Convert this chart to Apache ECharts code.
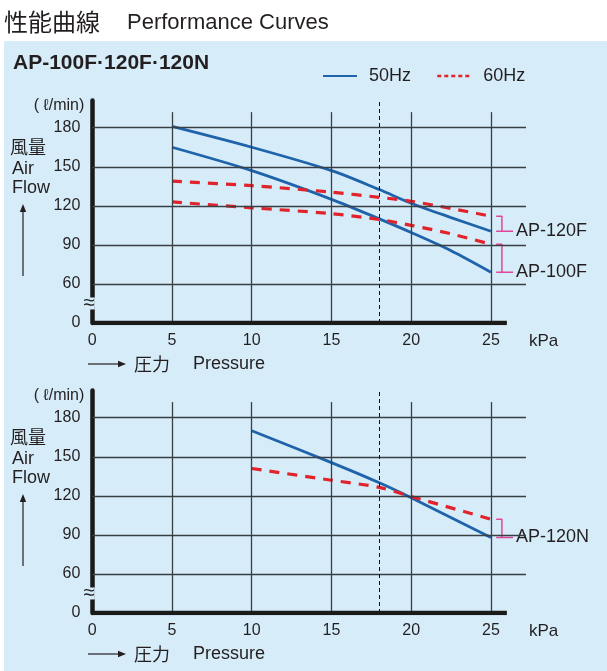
<!DOCTYPE html>
<html><head><meta charset="utf-8">
<script src="https://cdn.jsdelivr.net/npm/echarts@6/dist/echarts.min.js"></script>
<style>html,body{margin:0;padding:0;background:#fff}#c{width:607px;height:671px}</style>
</head><body><div id="c"></div>
<script>
// ---- data ----
const pressureTicks = [0, 5, 10, 15, 20, 25];
const flowTicks = [0, 60, 90, 120, 150, 180];
const markerPressure = 18;

// upper chart: AP-100F / AP-120F
const pTop = [5, 10, 15, 18, 20, 22.5, 25];
const ap120F_50 = [181, 165, 147, 132.5, 122, 111, 100.5];
const ap100F_50 = [165, 147, 125, 110, 99.5, 85.5, 69];
const ap120F_60 = [139, 135.5, 130.5, 126.5, 123.5, 118, 112];
const ap100F_60 = [123, 118.5, 114, 109.5, 105, 98.5, 90.5];

// lower chart: AP-120N
const pBot = [10, 15, 18, 20, 25];
const ap120N_50 = [170, 145.5, 130, 118.5, 88];
const ap120N_60 = [141, 132, 126.5, 119.5, 102];

// ---- styling / layout ----
const ZERO_SLOT = 30;       // axis slot where the broken axis shows "0"
const Y_MAX = 201, X_MAX = 27.2, VGRID_TOP = 192, XLINE_END = 26;
const BLUE = '#1f63ab', RED = '#e1232b', PINK = '#e0479a', INK = '#231f20', PANEL = '#d6ecf9';
const TXT = 'Liberation Sans, Arial, sans-serif';
const CJK = '"Noto Sans CJK JP", sans-serif';

const zip = (xs, ys) => xs.map((x, i) => [x, ys[i]]);
const last = a => a[a.length - 1];

function helperSeries(g) {
  const vLines = pressureTicks.filter(p => p > 0).map(p => [{coord: [p, ZERO_SLOT]}, {coord: [p, VGRID_TOP]}]);
  const hLines = flowTicks.filter(f => f > 0).map(f => ({yAxis: f}));
  const dashed = [{coord: [markerPressure, ZERO_SLOT], lineStyle: {type: [4, 3], width: 1, color: '#111'}}, {coord: [markerPressure, Y_MAX]}];
  return {
    type: 'line', xAxisIndex: g, yAxisIndex: g, silent: true, symbol: 'none', z: 5,
    data: [[0, ZERO_SLOT], [XLINE_END, ZERO_SLOT]],
    lineStyle: {color: '#1a1a1a', width: 4.5},
    markLine: {
      silent: true, symbol: 'none', label: {show: false}, animation: false,
      lineStyle: {color: '#3a3f44', width: 1.3, type: 'solid'},
      data: [...hLines, ...vLines, dashed]
    },
    markPoint: {
      silent: true, symbol: 'circle', symbolSize: 1, itemStyle: {color: 'rgba(0,0,0,0)'},
      data: [{coord: [0, 45]}],
      label: {show: true, formatter: '≈', fontSize: 20, color: '#222', position: 'inside',
              offset: [-3, 0], backgroundColor: PANEL, lineHeight: 12, padding: [0, 0]}
    }
  };
}

function curve(g, name, xs, ys, dashed) {
  return {
    type: 'line', name, xAxisIndex: g, yAxisIndex: g, symbol: 'none', smooth: 0.3, z: dashed ? 4 : 3,
    data: zip(xs, ys),
    lineStyle: dashed ? {color: RED, width: 3.2, type: [10, 8]} : {color: BLUE, width: 2.8},
    itemStyle: {color: dashed ? RED : BLUE}
  };
}

function bracket(g, label, xs, y60, y50) {
  const p = last(xs), a = last(y60), b = last(y50);
  return {
    type: 'line', name: label, xAxisIndex: g, yAxisIndex: g, symbol: 'none', silent: true, z: 4,
    data: [[p + 0.33, a], [p + 0.69, a], [p + 0.69, b], [p + 0.33, b], [p + 1.39, b]],
    lineStyle: {color: PINK, width: 1.5},
    endLabel: {show: true, formatter: label, fontSize: 18, color: INK, fontFamily: TXT, distance: 3}
  };
}

function xAxisCfg(g) {
  return {
    type: 'value', gridIndex: g, min: 0, max: X_MAX, interval: 5,
    axisLine: {show: false}, axisTick: {show: false}, splitLine: {show: false},
    axisLabel: {fontSize: 16, color: INK, fontFamily: TXT, margin: 10, showMaxLabel: false,
                formatter: v => pressureTicks.includes(v) ? String(v) : ''},
    name: 'kPa', nameLocation: 'end', nameGap: 3,
    nameTextStyle: {fontSize: 17, color: INK, fontFamily: TXT, align: 'left', verticalAlign: 'top', padding: [10, 0, 0, 0]}
  };
}
function yAxisCfg(g) {
  return {
    type: 'value', gridIndex: g, min: ZERO_SLOT, max: Y_MAX, interval: 30, offset: 2,
    axisLine: {show: true, lineStyle: {color: '#1a1a1a', width: 4.5}},
    axisTick: {show: false}, splitLine: {show: false},
    axisLabel: {fontSize: 16, color: INK, fontFamily: TXT, margin: 10, showMaxLabel: false,
                formatter: v => v === ZERO_SLOT ? '0' : (flowTicks.includes(v) ? String(v) : '')},
    name: '( ℓ/min)', nameLocation: 'end', nameGap: -5,
    nameTextStyle: {fontSize: 16, color: INK, fontFamily: TXT, align: 'right', verticalAlign: 'middle', padding: [0, 8, 0, 0]}
  };
}

function sideTexts(dy) {
  const t = (text, x, y, font) => ({type: 'text', z: 10, style: {text, x, y: y + dy, font, fill: INK,
    textAlign: 'left', align: 'left', textVerticalAlign: 'middle', verticalAlign: 'middle'}});
  return [
    t('風量', 10, 147, '18px ' + CJK),
    t('Air', 12, 169, '18px ' + TXT),
    t('Flow', 12, 188, '18px ' + TXT),
    {type: 'line', z: 10, shape: {x1: 23, y1: 276 + dy, x2: 23, y2: 210 + dy}, style: {stroke: INK, lineWidth: 1.2}},
    {type: 'polygon', z: 10, shape: {points: [[23, 204 + dy], [19.8, 212 + dy], [26.2, 212 + dy]]}, style: {fill: INK}},
    {type: 'line', z: 10, shape: {x1: 88, y1: 364 + dy, x2: 120, y2: 364 + dy}, style: {stroke: INK, lineWidth: 1.2}},
    {type: 'polygon', z: 10, shape: {points: [[126, 364 + dy], [118, 360.8 + dy], [118, 367.2 + dy]]}, style: {fill: INK}},
    t('圧力', 134, 364, '18px ' + CJK),
    t('Pressure', 193, 364, '18px ' + TXT)
  ];
}

const chart = echarts.init(document.getElementById('c'), null, {renderer: 'canvas'});
chart.setOption({
  animation: false,
  backgroundColor: '#ffffff',
  textStyle: {fontFamily: TXT},
  graphic: [
    {type: 'rect', z: -10, shape: {x: 4, y: 41, width: 603, height: 630}, style: {fill: PANEL}},
    {type: 'text', z: 10, style: {text: '性能曲線', x: 4, y: 22, font: '24px ' + CJK, fill: INK, textVerticalAlign: 'middle', verticalAlign: 'middle'}},
    {type: 'text', z: 10, style: {text: 'Performance Curves', x: 127, y: 23, font: '22px ' + TXT, fill: INK, textVerticalAlign: 'middle', verticalAlign: 'middle'}},
    {type: 'text', z: 10, style: {text: 'AP-100F·120F·120N', x: 13, y: 63, font: 'bold 21px ' + TXT, fill: INK, textVerticalAlign: 'middle', verticalAlign: 'middle'}},
    ...sideTexts(0), ...sideTexts(290)
  ],
  legend: {
    left: 317, top: 62, itemWidth: 34, itemHeight: 14, itemGap: 25,
    textStyle: {fontSize: 18, color: INK, fontFamily: TXT, padding: [0, 0, 0, 7]},
    itemStyle: {color: 'rgba(0,0,0,0)', borderWidth: 0, opacity: 0},
    data: [{name: '50Hz'}, {name: '60Hz', lineStyle: {type: [4, 3], width: 2.5}}]
  },
  grid: [
    {left: 92.3, right: 81, top: 100.4, height: 222.6, containLabel: false},
    {left: 92.3, right: 81, top: 390.4, height: 222.6, containLabel: false}
  ],
  xAxis: [xAxisCfg(0), xAxisCfg(1)],
  yAxis: [yAxisCfg(0), yAxisCfg(1)],
  series: [
    helperSeries(0),
    curve(0, '50Hz', pTop, ap120F_50, false),
    curve(0, '50Hz', pTop, ap100F_50, false),
    curve(0, '60Hz', pTop, ap120F_60, true),
    curve(0, '60Hz', pTop, ap100F_60, true),
    bracket(0, 'AP-120F', pTop, ap120F_60, ap120F_50),
    bracket(0, 'AP-100F', pTop, ap100F_60, ap100F_50),
    helperSeries(1),
    curve(1, '50Hz', pBot, ap120N_50, false),
    curve(1, '60Hz', pBot, ap120N_60, true),
    bracket(1, 'AP-120N', pBot, ap120N_60, ap120N_50)
  ]
});
</script></body></html>
